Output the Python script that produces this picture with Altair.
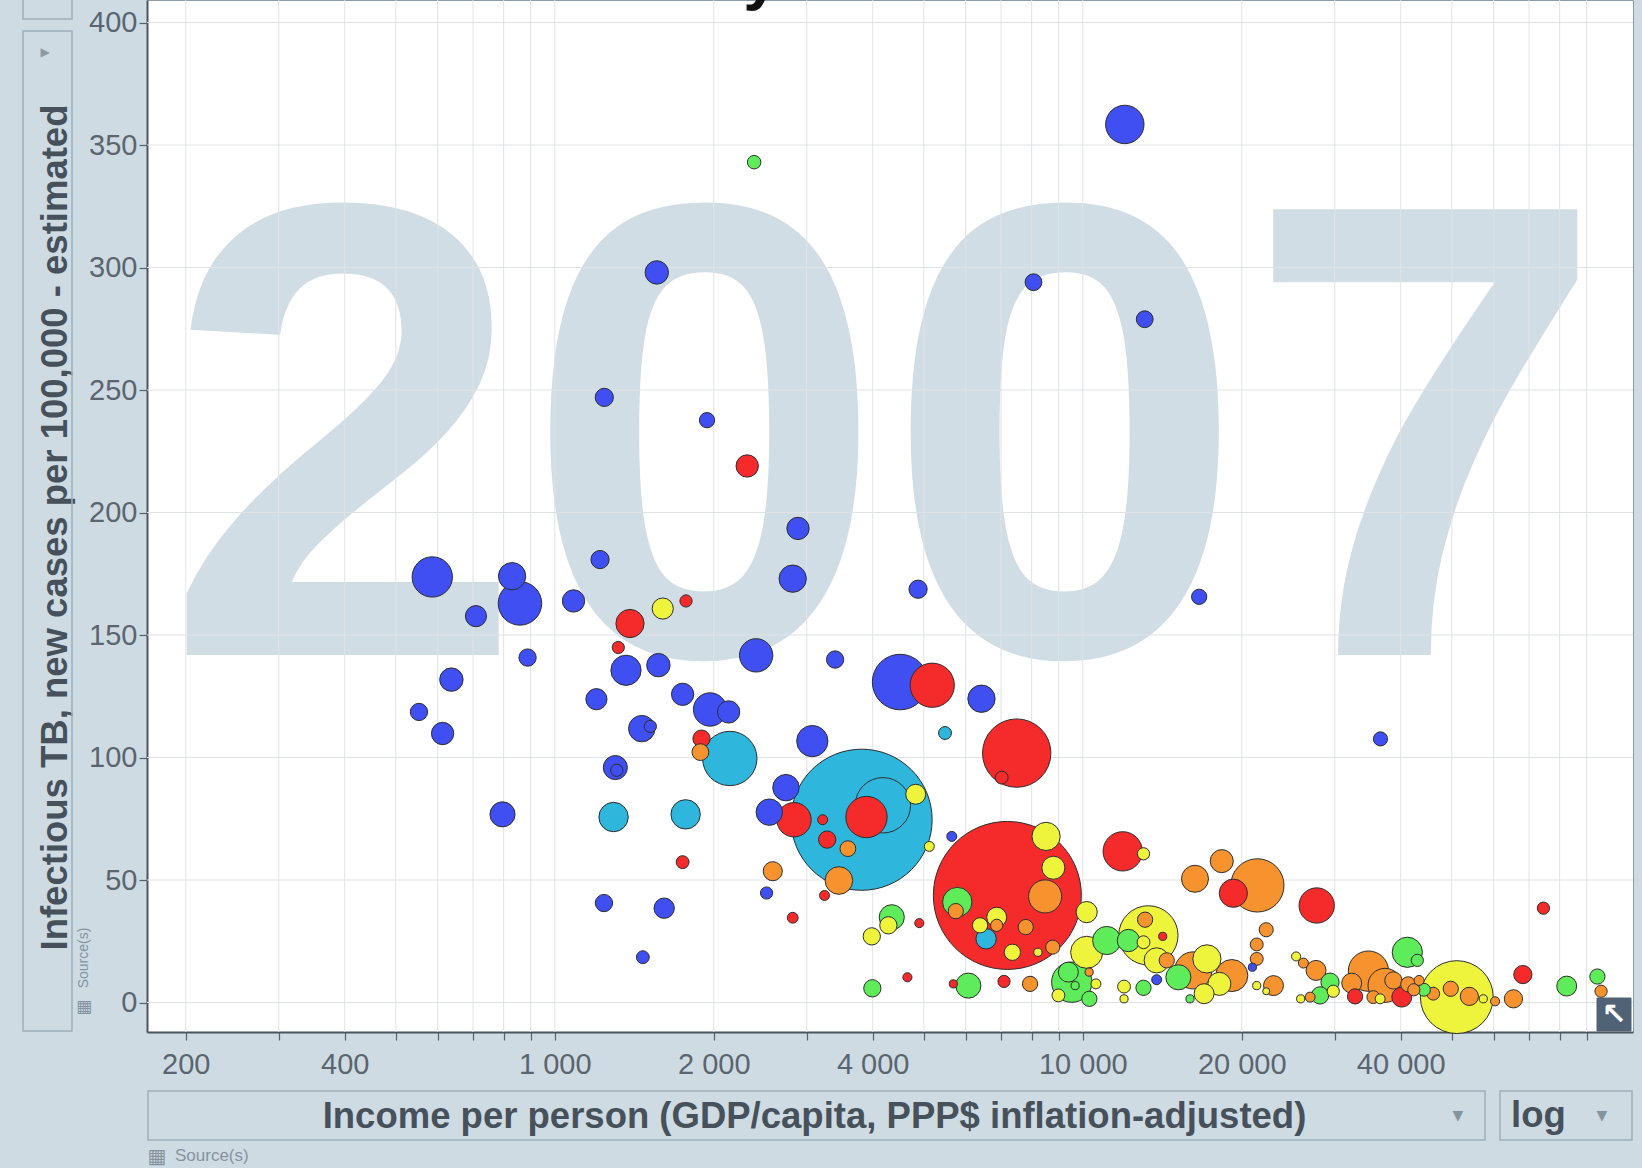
import altair as alt
import pandas as pd

# ---- region groups and their colours ----
REGIONS = ["Sub-Saharan Africa", "South Asia", "East Asia & Pacific",
           "Middle East & North Africa", "America", "Europe & Central Asia"]
REGION_COLORS = ["#3f4ff2", "#2eb6dd", "#f52a2a", "#5fec5a", "#eef43c", "#f7932e"]

# ---- 2007 values: income per person (PPP$), infectious TB per 100k, population (millions) ----
africa_income = [12010, 8065, 13100, 4875, 16610, 36620, 4508, 6428, 1560, 1241,
                 1942, 2888, 586, 830, 859, 709, 1085, 1218, 888, 1364,
                 1571, 2406, 3395, 2822, 637, 553, 613, 1199, 1746, 1968,
                 2134, 1461, 1517, 1302, 1310, 3074, 2740, 2548, 796, 5647,
                 2518, 1239, 1611, 1468, 13800, 20950]
africa_tb = [358.4, 294, 278.9, 168.7, 165.6, 107.6, 130.8, 124, 298, 247,
             237.7, 193.5, 173.7, 174, 162.9, 157.7, 163.9, 180.8, 140.8, 135.6,
             137.7, 141.7, 140, 173, 131.8, 118.6, 109.8, 123.8, 125.8, 119.6,
             118.6, 111.8, 112.7, 95.9, 94.8, 106.7, 87.7, 77.7, 76.8, 67.8,
             44.7, 40.6, 38.5, 18.5, 9.3, 14.4]
africa_pop = [89, 17, 17, 20, 14, 12, 186, 45, 33, 20,
              14, 30, 98, 45, 114, 27, 30, 20, 18, 55,
              33, 67, 18, 45, 33, 18, 30, 27, 30, 67,
              30, 42, 9, 35, 9, 59, 42, 42, 38, 6,
              9, 18, 25, 10, 6, 4]

south_asia_income = [3811, 4182, 2145, 1292, 1769, 5483, 6559]
south_asia_tb = [74.6, 80.5, 99.6, 75.7, 76.8, 110, 26]
south_asia_pop = [1200, 185, 178, 52, 52, 10, 25]

east_asia_income = [7196, 5186, 7496, 7020, 2314, 1388, 1772, 1319, 1896, 1746,
                    2838, 3893, 3216, 3280, 3242, 2822, 4901, 4654, 5686, 7092,
                    11900, 19280, 27730, 14170, 32780, 40190, 74530, 68140]
east_asia_tb = [43.7, 129.5, 101.8, 91.8, 219, 154.7, 163.9, 144.9, 107.7, 57.3,
                74.6, 75.7, 74.6, 66.5, 43.7, 34.6, 32.4, 10.3, 7.6, 8.6,
                61.7, 44.6, 39.6, 27, 2.5, 2.2, 38.5, 11.4]
east_asia_pop = [1320, 118, 282, 10, 30, 48, 9, 9, 18, 10,
                 71, 103, 6, 18, 6, 7, 5, 5, 4, 9,
                 93, 48, 75, 4, 14, 24, 9, 20]

mena_income = [2385, 5784, 4347, 3994, 6070, 9530, 9389, 11100, 12200, 15170,
               15960, 13030, 10290, 9670, 28140, 29390, 44270, 41170, 43010, 94310,
               82510]
mena_tb = [343, 41, 34.8, 5.8, 6.9, 8.3, 12.4, 25.3, 25.3, 10.3,
           1.5, 6, 1.5, 6.9, 2.9, 8.3, 5.2, 20.5, 17.2, 10.6,
           6.7]
mena_pop = [11, 52, 38, 18, 38, 98, 24, 48, 30, 38,
            4, 14, 14, 4, 18, 20, 10, 55, 9, 14,
            24]

america_income = [1601, 4825, 5120, 4283, 3984, 6388, 6869, 7355, 8220, 8520,
                  8795, 10170, 10170, 13310, 13030, 13800, 17180, 18140, 16970, 11970,
                  11970, 10590, 8990, 21350, 22250, 25350, 25860, 29810, 36570, 51090,
                  57350, 13030]
america_tb = [160.8, 85, 63.7, 31.5, 27, 31.5, 34.8, 20.5, 20.5, 67.8,
              55, 36.9, 20.5, 27.4, 24.6, 17.2, 17.8, 7.6, 3.6, 6.5,
              1.5, 7.6, 2.9, 6.9, 4.6, 18.8, 1.5, 4.6, 1.5, 2.2,
              1.5, 60.7]
america_pop = [27, 24, 6, 18, 18, 14, 24, 16, 4, 48,
               32, 27, 62, 212, 10, 38, 48, 32, 24, 10,
               4, 6, 10, 4, 3, 5, 4, 9, 6, 320,
               4, 9]

europe_income = [1887, 2587, 3452, 3590, 5747, 8484, 6869, 7797, 8771, 7945,
                 13120, 14420, 16190, 19150, 16310, 18330, 21410, 22250, 21350, 21350,
                 22970, 26170, 27650, 26950, 34750, 32310, 35500, 37360, 38750, 41350,
                 42360, 43340, 46100, 49760, 53960, 60370, 65400, 95840, 10280]
europe_tb = [102.2, 53.6, 49.8, 62.8, 37.3, 43.3, 31.5, 30.8, 22.6, 7.6,
             33.8, 17.2, 13.1, 11, 50.5, 57.7, 47.8, 29.7, 23.7, 17.8,
             6.9, 16.1, 13.1, 2.2, 12.8, 7.9, 2.2, 7, 9, 7.4,
             5.2, 9, 3.6, 5.6, 2.5, 0.5, 1.5, 4.6, 12.4]
europe_pop = [17, 22, 46, 15, 14, 66, 9, 14, 12, 14,
              14, 14, 83, 62, 44, 32, 171, 12, 10, 10,
              24, 6, 24, 6, 98, 24, 10, 70, 18, 14,
              9, 6, 10, 14, 20, 5, 20, 9, 4]

YEAR = ["2007"]
X_TICKS = [200, 300, 400, 500, 600, 700, 800, 900,
           1000, 2000, 3000, 4000, 5000, 6000, 7000, 8000, 9000,
           10000, 20000, 30000, 40000, 50000, 60000, 70000, 80000, 90000]
X_LABELED = [200, 400, 1000, 2000, 4000, 10000, 20000, 40000]
Y_TICKS = [0, 50, 100, 150, 200, 250, 300, 350, 400]
X_TITLE = "Income per person (GDP/capita, PPP$ inflation-adjusted)"
Y_TITLE = "Infectious TB, new cases per 100,000 - estimated"
SCALE_MODE = "log"
SOURCE_LABEL = "Source(s)"

# ---- assemble the bubble table ----
groups = [
    (REGIONS[0], africa_income, africa_tb, africa_pop),
    (REGIONS[1], south_asia_income, south_asia_tb, south_asia_pop),
    (REGIONS[2], east_asia_income, east_asia_tb, east_asia_pop),
    (REGIONS[3], mena_income, mena_tb, mena_pop),
    (REGIONS[4], america_income, america_tb, america_pop),
    (REGIONS[5], europe_income, europe_tb, europe_pop),
]
bubbles_df = pd.concat(
    [pd.DataFrame({"region": r, "income": i, "tb": t, "pop": p}) for r, i, t, p in groups],
    ignore_index=True,
).sort_values("pop", ascending=False)

FONT = "Liberation Sans"
TEXT_DARK = "#46515b"
TEXT_MID = "#5a6570"
TEXT_LIGHT = "#8593a0"
BOX_STROKE = "#9eb0bc"
W, H = 1486, 1032

x_scale = alt.Scale(type="log", domain=[168.9, 110160], nice=False)
y_scale = alt.Scale(domain=[-12.04, 409.2], nice=False, zero=False)

label_expr = (
    "indexof(" + str(X_LABELED) + ", datum.value) >= 0 ? "
    "replace(format(datum.value, ','), ',', ' ') : ''"
)

x_axis = alt.Axis(
    values=X_TICKS, labelExpr=label_expr, grid=False,
    tickSize=8, tickColor="#56626c", tickWidth=1.2,
    domainColor="#4a5560", domainWidth=2,
    labelFont=FONT, labelFontSize=29, labelColor=TEXT_MID, labelPadding=10,
    labelOverlap=False, labelFlush=False,
    title=X_TITLE, titleFont=FONT, titleFontSize=36.5, titleFontWeight="bold",
    titleColor=TEXT_DARK, titleX=667, titleY=95, titleAlign="center",
    titleBaseline="alphabetic",
)
y_axis = alt.Axis(
    values=Y_TICKS, grid=False,
    tickSize=8, tickColor="#56626c", tickWidth=1.2,
    domainColor="#4a5560", domainWidth=2,
    labelFont=FONT, labelFontSize=29, labelColor=TEXT_MID, labelPadding=2,
    title=Y_TITLE, titleFont=FONT, titleFontSize=36.5, titleFontWeight="bold",
    titleColor=TEXT_DARK, titleAngle=270, titleX=-81, titleY=527,
    titleAlign="center", titleBaseline="alphabetic",
)

# big year watermark behind everything
watermark = alt.Chart(pd.DataFrame({"year": YEAR})).mark_text(
    font=FONT, fontWeight="bold", fontSize=648, color="#d1dde4",
    align="center", baseline="alphabetic",
).encode(text="year:N", x=alt.value(738), y=alt.value(655))

# gridlines drawn above the watermark, below the bubbles
grid_x = alt.Chart(pd.DataFrame({"income": X_TICKS})).mark_rule(
    color="#e0e3e6", strokeWidth=1
).encode(x=alt.X("income:Q", scale=x_scale, axis=x_axis))
grid_y = alt.Chart(pd.DataFrame({"tb": Y_TICKS})).mark_rule(
    color="#e0e3e6", strokeWidth=1
).encode(y=alt.Y("tb:Q", scale=y_scale, axis=y_axis))

bubbles = alt.Chart(bubbles_df).mark_circle(
    opacity=1, stroke="#2d2d2d", strokeWidth=1
).encode(
    x=alt.X("income:Q", scale=x_scale, axis=x_axis),
    y=alt.Y("tb:Q", scale=y_scale, axis=y_axis),
    size=alt.Size("pop:Q", scale=alt.Scale(domain=[0, 1320], range=[0, 21904]), legend=None),
    color=alt.Color("region:N", scale=alt.Scale(domain=REGIONS, range=REGION_COLORS), legend=None),
    order=alt.Order("pop:Q", sort="descending"),
)

one_row = pd.DataFrame({"k": [0]})


def box(x1, x2, y1, y2, **style):
    props = dict(fillOpacity=0, stroke=BOX_STROKE, strokeWidth=1.5)
    props.update(style)
    return alt.Chart(one_row).mark_rect(**props).encode(
        x=alt.value(x1), x2=alt.value(x2), y=alt.value(y1), y2=alt.value(y2)
    )


def label(text, x, y, **style):
    props = dict(font=FONT, color=TEXT_LIGHT, align="center", baseline="middle")
    props.update(style)
    return alt.Chart(pd.DataFrame({"t": [text]})).mark_text(**props).encode(
        text="t:N", x=alt.value(x), y=alt.value(y)
    )


decor = [
    # selector boxes around the axis titles
    box(-124, -75, -2, 19),
    box(-124, -75, 31, 1031),
    box(1, 1338, 1091, 1140),
    box(1353, 1485, 1091, 1140),
    label("\u25B6", -102, 52, fontSize=12, color="#8d9aa3", font="DejaVu Sans"),
    label("\u25BC", 1311, 1116, fontSize=14, font="DejaVu Sans"),
    label("\u25BC", 1455, 1116, fontSize=14, font="DejaVu Sans"),
    label(SCALE_MODE, 1364, 1127, fontSize=36.5, fontWeight="bold", color=TEXT_DARK,
          align="left", baseline="alphabetic"),
    # source links
    label("\u25A6", 10, 1157, fontSize=20, font="DejaVu Sans"),
    label(SOURCE_LABEL, 28, 1156, fontSize=17, align="left"),
    label("\u25A6", -63, 1007, fontSize=17, font="DejaVu Sans"),
    label(SOURCE_LABEL, -59, 958, fontSize=14, angle=270, baseline="alphabetic"),
    # corner button
    box(1450, 1484, 998, 1031, fill="#4f6276", fillOpacity=1, stroke="#4f6276", strokeWidth=1),
    label("\u2196", 1467, 1015, fontSize=30, fontWeight="bold", color="white", font="DejaVu Sans"),
    # tail of the title glyph above the frame
    label("y", 614, -2, fontSize=64, fontWeight="bold", color="#111111", baseline="alphabetic"),
]

chart = alt.layer(watermark, grid_x, grid_y, bubbles, *decor).properties(
    width=W, height=H,
    padding={"left": 147, "top": 0, "right": 9, "bottom": 136},
    autosize=alt.AutoSizeParams(type="none"),
    background="#cfdbe3",
).configure_view(fill="white", stroke="#8c9ba6", strokeWidth=1)

chart.save("out.html", embed_options={"renderer": "svg", "actions": False})
